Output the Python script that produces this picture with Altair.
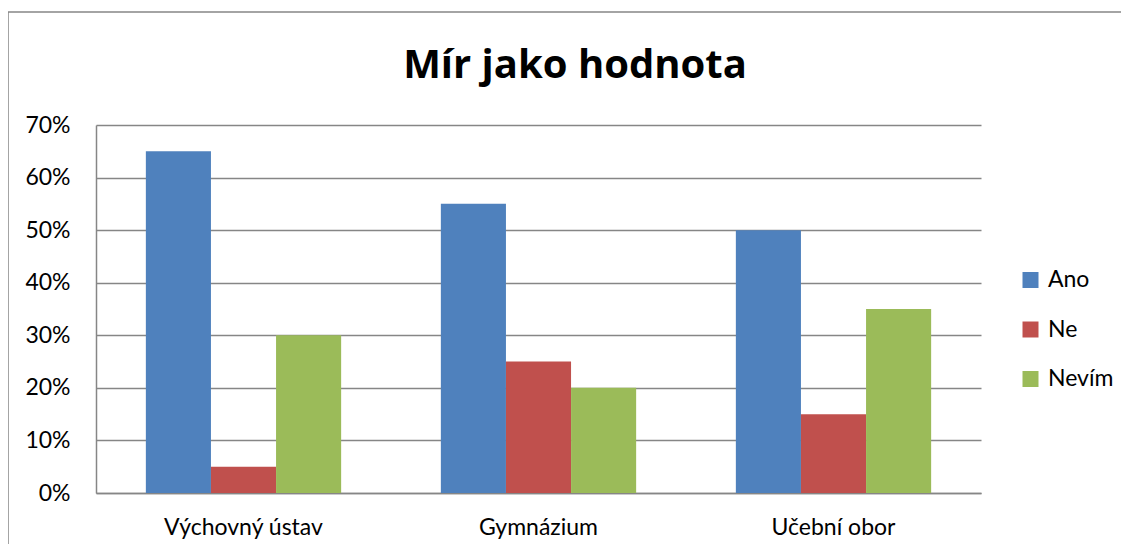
import altair as alt
import pandas as pd

categories = ["Výchovný ústav", "Gymnázium", "Učební obor"]
series = ["Ano", "Ne", "Nevím"]
ano = [0.65, 0.55, 0.50]
ne = [0.05, 0.25, 0.15]
nevim = [0.30, 0.20, 0.35]
colors = ["#4F81BD", "#C0504D", "#9BBB59"]
y_ticks = [0, 0.1, 0.2, 0.3, 0.4, 0.5, 0.6, 0.7]
title_text = "Mír jako hodnota"

rows = []
for i, c in enumerate(categories):
    for s, vals in zip(series, [ano, ne, nevim]):
        rows.append({"kategorie": c, "odpověď": s, "hodnota": vals[i]})
df = pd.DataFrame(rows)

FONT = "Lato"
GRID = "#868686"
FS = 23

bars = alt.Chart(df).mark_bar().encode(
    x=alt.X("kategorie:N", sort=categories,
            scale=alt.Scale(paddingInner=0.338, paddingOuter=0.169),
            axis=alt.Axis(title=None, labelAngle=0, labelFontSize=FS,
                          labelFont=FONT, labelColor="#000000",
                          labelPadding=23, ticks=False,
                          domainColor=GRID, domainWidth=1.5)),
    xOffset=alt.XOffset("odpověď:N", sort=series),
    y=alt.Y("hodnota:Q",
            scale=alt.Scale(domain=[0, 0.7], nice=False),
            axis=alt.Axis(title=None, format=".0%", values=y_ticks,
                          labelFontSize=FS, labelFont=FONT,
                          labelColor="#000000", labelPadding=26,
                          ticks=False, domainColor=GRID, domainWidth=1.5,
                          grid=True, gridColor=GRID, gridWidth=1.5)),
    color=alt.Color("odpověď:N", sort=series,
                    scale=alt.Scale(domain=series, range=colors),
                    legend=alt.Legend(title=None, orient="none",
                                      legendX=923, legendY=143.5,
                                      symbolType="square", symbolSize=256,
                                      symbolStrokeWidth=0,
                                      labelFontSize=FS, labelFont=FONT,
                                      labelColor="#000000", labelOffset=6,
                                      rowPadding=25.5)),
)

border = alt.Chart(pd.DataFrame({"a": [0]})).mark_rect(
    fillOpacity=0, stroke=GRID, strokeWidth=1.5
).encode(
    x=alt.value(-88), x2=alt.value(1200),
    y=alt.value(-113), y2=alt.value(600),
)

title = alt.Chart(pd.DataFrame({"t": [title_text]})).mark_text(
    font="Open Sans", fontSize=40, fontWeight="bold", color="#000000",
    align="center", baseline="middle"
).encode(
    text="t:N", x=alt.value(479), y=alt.value(-59),
)

chart = alt.layer(border, bars, title).properties(
    width=885, height=368,
    padding={"left": 88, "top": 117, "right": 140, "bottom": 51},
    autosize=alt.AutoSizeParams(type="none"),
).configure_view(stroke=None)

chart.save("out.html", embed_options={"renderer": "svg", "actions": False})
